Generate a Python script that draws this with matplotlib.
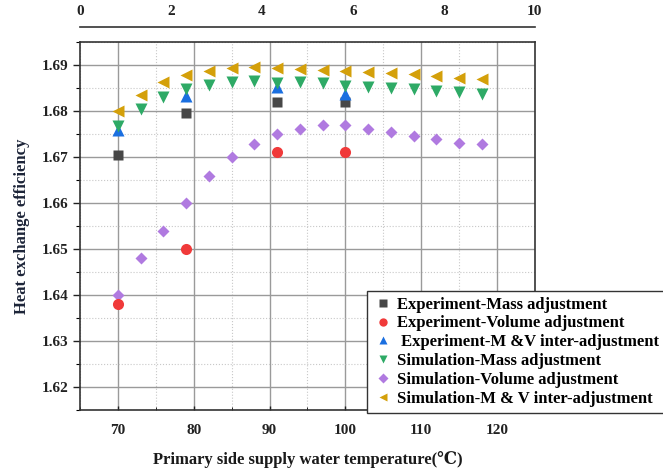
import matplotlib
matplotlib.use("Agg")
import matplotlib.pyplot as plt
from matplotlib.ticker import MultipleLocator

plt.rcParams['font.family'] = ['Liberation Serif', 'DejaVu Serif']
plt.rcParams['font.weight'] = 'bold'

# experiment temperatures
exp_temp = [70, 79, 91, 100]
exp_mass = [1.6705, 1.6795, 1.682, 1.682]
exp_volume = [1.638, 1.650, 1.671, 1.671]
exp_mv = [1.6759, 1.6833, 1.6853, 1.6838]

# simulation temperatures
sim_temp = [70, 73, 76, 79, 82, 85, 88, 91, 94, 97, 100, 103, 106, 109, 112, 115, 118]
sim_mass = [1.6767, 1.6804, 1.6831, 1.6847, 1.6857, 1.6862, 1.6865, 1.6860, 1.6862,
            1.6860, 1.6855, 1.6853, 1.6851, 1.6847, 1.6844, 1.6841, 1.6837]
sim_volume = [1.640, 1.648, 1.654, 1.660, 1.6659, 1.6699, 1.6729, 1.6749, 1.6760,
              1.6770, 1.6770, 1.6760, 1.6754, 1.6746, 1.6740, 1.6731, 1.6728]
sim_mv = [1.680, 1.6835, 1.6862, 1.6878, 1.6887, 1.6893, 1.6895, 1.6893, 1.6891,
          1.6889, 1.6886, 1.6884, 1.6883, 1.6880, 1.6877, 1.6872, 1.6869]

labels = ["Experiment-Mass adjustment",
          "Experiment-Volume adjustment",
          " Experiment-M &V inter-adjustment",
          "Simulation-Mass adjustment",
          "Simulation-Volume adjustment",
          "Simulation-M & V inter-adjustment"]

fig = plt.figure(figsize=(6.63, 4.69), dpi=100)
ax = fig.add_axes([0.1207, 0.1258, 0.686, 0.7846])

ax.plot(exp_temp, exp_mass, 's', color='#474747', ms=7, mec='none', label=labels[0], zorder=3)
ax.plot(exp_temp, exp_volume, 'o', color='#f03a3a', ms=8, mec='none', label=labels[1], zorder=4)
ax.plot(exp_temp, exp_mv, '^', color='#1a6fe0', ms=8.5, mec='none', label=labels[2], zorder=3)
ax.plot(sim_temp, sim_mass, 'v', color='#2eaa66', ms=8.5, mec='none', label=labels[3], zorder=3)
ax.plot(sim_temp, sim_volume, 'D', color='#b07ae0', ms=6.5, mec='none', label=labels[4], zorder=3)
ax.plot(sim_temp, sim_mv, '<', color='#d4a00a', ms=8.5, mec='none', label=labels[5], zorder=3)

ax.set_xlim(65, 125)
ax.set_ylim(1.615, 1.695)
ax.xaxis.set_minor_locator(MultipleLocator(5))
ax.yaxis.set_minor_locator(MultipleLocator(0.005))
ax.set_xticks([70, 80, 90, 100, 110, 120])
ax.set_xticklabels(['70', '80', '90', '100', '110', '120'])
ax.set_yticks([1.62, 1.63, 1.64, 1.65, 1.66, 1.67, 1.68, 1.69])
ax.set_yticklabels(['1.62', '1.63', '1.64', '1.65', '1.66', '1.67', '1.68', '1.69'])

ax.grid(which='major', color='#9a9a9a', lw=1.0, ls='-', zorder=0)
ax.grid(which='minor', color='#c8c8c8', lw=0.8, ls=':', zorder=0)
ax.set_axisbelow(True)

for s in ax.spines.values():
    s.set_color('#333333')
    s.set_linewidth(1.2)

ax.tick_params(axis='both', which='major', labelsize=11, colors='#222222', length=5, width=1)
ax.tick_params(axis='y', which='minor', length=3, width=0.8)
ax.tick_params(axis='x', which='both', direction='in', length=3, pad=10)
ax.tick_params(axis='x', which='minor', length=2)

ax.set_xlabel('Primary side supply water temperature(℃)', fontsize=12, fontweight='bold',
              labelpad=10, color='#1a1a1a')
ax.set_ylabel('Heat exchange efficiency', fontsize=12, fontweight='bold', labelpad=8,
              color='#1c2438')

# secondary top axis
ax2 = ax.twiny()
ax2.set_xlim(0, 10)
ax2.set_xticks([0, 2, 4, 6, 8, 10])
ax2.spines['top'].set_position(('outward', 11))
ax2.spines['top'].set_color('#333333')
ax2.spines['top'].set_linewidth(1.2)
for side in ['bottom', 'left', 'right']:
    ax2.spines[side].set_visible(False)
ax2.tick_params(axis='x', length=0, labelsize=11, pad=6, colors='#222222')

leg = ax.legend(loc='upper left', bbox_to_anchor=(0.631, 0.324), fontsize=12,
                frameon=True, fancybox=False, edgecolor='#333333', framealpha=1,
                labelspacing=0.17, handletextpad=0.25, handlelength=1.2,
                borderpad=0.35, markerscale=0.75, borderaxespad=0)
leg.get_frame().set_linewidth(1.0)
leg.set_zorder(10)

fig.savefig('out.png', dpi=100)
